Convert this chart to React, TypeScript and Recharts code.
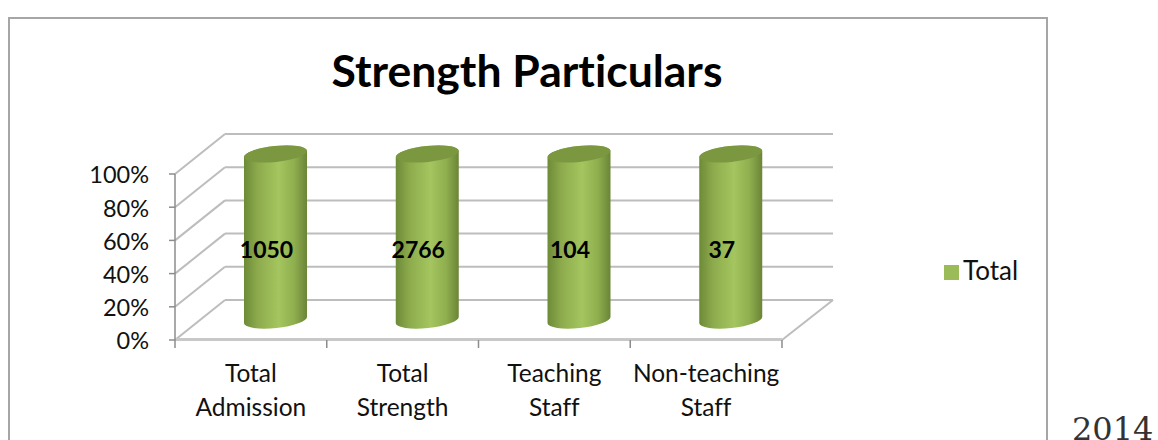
import { Bar, BarChart, CartesianGrid, Legend, LabelList, XAxis, YAxis } from "recharts";

const categories = ["Total Admission", "Total Strength", "Teaching Staff", "Non-teaching Staff"];
const totals = [1050, 2766, 104, 37];
const yTicks = [0, 0.2, 0.4, 0.6, 0.8, 1];

const chartData = categories.map((name, i) => ({ name, Total: totals[i] }));

const FONT = "Lato, 'Open Sans', sans-serif";
const DEPTH_X = 50;
const DEPTH_Y = 40;
const BAND = 151.75;

function WallLine(props: any) {
  const { x1, x2, y1 } = props;
  const isFloor = y1 > 330;
  return (
    <g stroke="#bdbdbd" strokeWidth={2} fill="none">
      <line x1={x1} y1={y1} x2={x1 + DEPTH_X} y2={y1 - DEPTH_Y} />
      <line x1={x1 + DEPTH_X} y1={y1 - DEPTH_Y} x2={x2 + DEPTH_X + 1} y2={y1 - DEPTH_Y} />
      {isFloor && <line x1={x2} y1={y1} x2={x2 + DEPTH_X + 1} y2={y1 - DEPTH_Y} />}
      {isFloor && <line x1={x1} y1={y1 - 0.5} x2={x2} y2={y1 - 0.5} strokeWidth={3} stroke="#c8c8c8" />}
    </g>
  );
}

function Cylinder(props: any) {
  const { x, y, width, height } = props;
  const left = x + DEPTH_X / 2;
  const right = left + width;
  const top = y - DEPTH_Y / 2;
  const bottom = top + height;
  const rx = width / 2;
  const ry = 8;
  const tilt = -6;
  const dy = Math.sin((tilt * Math.PI) / 180) * rx;
  const body = `M${left},${top - dy} L${left},${bottom - dy}
    A${rx},${ry} ${tilt} 0 0 ${right},${bottom + dy}
    L${right},${top + dy}
    A${rx},${ry} ${tilt} 0 0 ${left},${top - dy} Z`;
  return (
    <g>
      <path d={body} fill="url(#cylinderFill)" />
      <ellipse
        cx={left + rx}
        cy={top}
        rx={rx}
        ry={ry}
        fill="#7b9740"
        transform={`rotate(${tilt} ${left + rx} ${top})`}
      />
    </g>
  );
}

function CategoryTick(props: any) {
  const { x, payload, index } = props;
  const words = String(payload.value).split(" ");
  const isLast = index === categories.length - 1;
  const axisY = 340;
  return (
    <g>
      <line x1={x - BAND / 2} y1={axisY} x2={x - BAND / 2} y2={axisY + 8} stroke="#8c8c8c" strokeWidth={1.5} />
      {isLast && <line x1={x + BAND / 2} y1={axisY} x2={x + BAND / 2} y2={axisY + 8} stroke="#8c8c8c" strokeWidth={1.5} />}
      <text x={x} y={axisY + 42} textAnchor="middle" fontFamily={FONT} fontSize={24.5} fill="#111" style={{ fontVariantLigatures: "none" }}>
        {words.map((w, i) => (
          <tspan key={w} x={x} dy={i === 0 ? 0 : 34}>
            {w}
          </tspan>
        ))}
      </text>
    </g>
  );
}

function ValueLabel(props: any) {
  const { x, y, width, height, value } = props;
  return (
    <text
      x={x + width / 2 + 16}
      y={y + height / 2 - 8}
      textAnchor="middle"
      dominantBaseline="central"
      fontFamily={FONT}
      fontWeight={700}
      fontSize={23}
      fill="#000"
    >
      {value}
    </text>
  );
}

export default function App() {
  return (
    <div style={{ position: "absolute", left: 0, top: 0, width: 1158, height: 440, overflow: "hidden", background: "#fff" }}>
      <div
        style={{
          position: "absolute",
          left: 8,
          top: 17,
          width: 1040,
          height: 440,
          border: "2px solid #a6a6a6",
          boxSizing: "border-box",
        }}
      />
      <div
        style={{
          position: "absolute",
          left: 8,
          width: 1038,
          top: 42,
          textAlign: "center",
          fontFamily: FONT,
          fontWeight: 700,
          fontSize: 44.5,
          lineHeight: "56px",
          color: "#000",
          fontVariantLigatures: "none",
        }}
      >
        Strength Particulars
      </div>
      <div
        style={{
          position: "absolute",
          left: 1072,
          top: 410,
          fontFamily: "'DejaVu Serif', serif",
          fontSize: 32,
          lineHeight: "38px",
          color: "#333",
        }}
      >
        2014
      </div>
      <BarChart
        width={1158}
        height={440}
        data={chartData}
        stackOffset="expand"
        margin={{ top: 174, right: 376, bottom: 0, left: 0 }}
        style={{ position: "absolute", left: 0, top: 0 }}
      >
        <defs>
          <linearGradient id="cylinderFill" x1="0" y1="0" x2="1" y2="0">
            <stop offset="0%" stopColor="#6d8a38" />
            <stop offset="22%" stopColor="#8dab4c" />
            <stop offset="55%" stopColor="#a4c55f" />
            <stop offset="80%" stopColor="#8fae4e" />
            <stop offset="100%" stopColor="#6a8537" />
          </linearGradient>
        </defs>
        <CartesianGrid vertical={false} horizontal={(p: any) => <WallLine key={p.key} {...p} />} />
        <XAxis
          dataKey="name"
          height={100}
          interval={0}
          tickLine={false}
          axisLine={false}
          tick={(p: any) => <CategoryTick key={p.index} {...p} />}
        />
        <YAxis
          width={175}
          domain={[0, 1]}
          ticks={yTicks}
          tickFormatter={(v: number) => `${Math.round(v * 100)}%`}
          tick={{ fontFamily: FONT, fontSize: 23.5, fill: "#111", dy: 1 }}
          tickSize={6}
          tickMargin={20}
          axisLine={{ stroke: "#8c8c8c", strokeWidth: 1.5 }}
          tickLine={{ stroke: "#8c8c8c", strokeWidth: 1.5 }}
        />
        <Legend
          layout="vertical"
          align="center"
          verticalAlign="middle"
          iconType="square"
          iconSize={15}
          formatter={(v: string) => (
            <span style={{ color: "#111", fontFamily: FONT, fontSize: 26, position: "relative", top: 4 }}>{v}</span>
          )}
          wrapperStyle={{ position: "absolute", left: 944, top: 250, width: 90 }}
        />
        <Bar dataKey="Total" stackId="a" fill="#9BBB59" barSize={63} isAnimationActive={false} shape={<Cylinder />}>
          <LabelList dataKey="Total" content={<ValueLabel />} />
        </Bar>
      </BarChart>
    </div>
  );
}
